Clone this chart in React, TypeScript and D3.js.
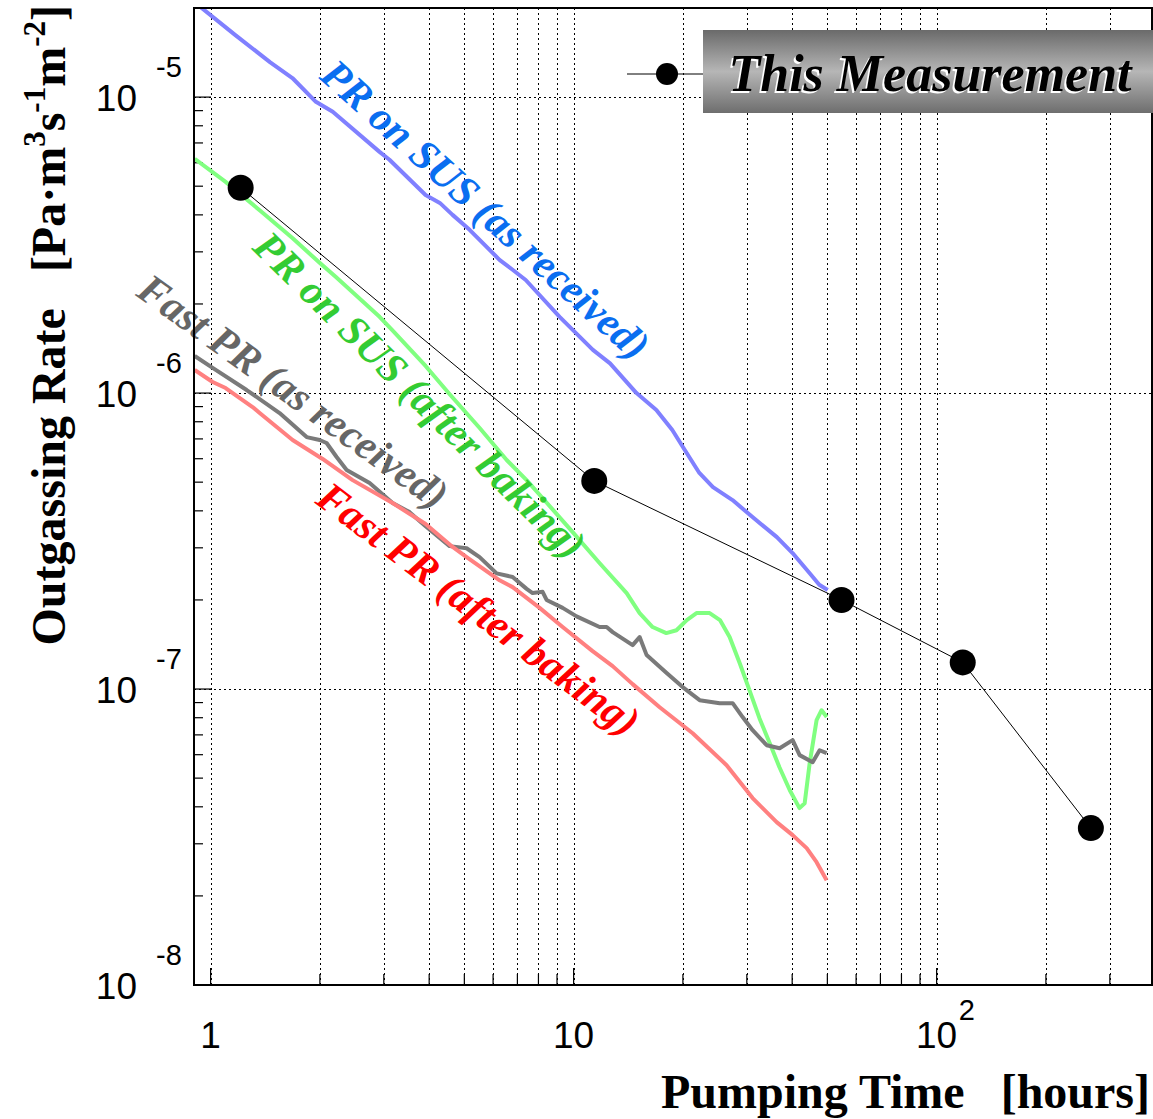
import React from 'react';
import * as d3 from 'd3';

// pumping time [hours] vs outgassing rate [Pa m3 s-1 m-2]
const prSusReceived: [number, number][] = [
  [0.898, 2.10e-5], [0.95, 1.99e-5], [1.17, 1.62e-5], [1.46, 1.31e-5], [1.68, 1.16e-5],
  [1.95, 9.64e-6], [2.17, 8.92e-6], [2.92, 6.53e-6], [3.11, 6.14e-6], [3.91, 4.67e-6],
  [4.28, 4.39e-6], [4.64, 4.0e-6], [5.17, 3.56e-6], [6.25, 2.82e-6], [6.79, 2.61e-6],
  [7.38, 2.41e-6], [9.15, 1.81e-6], [11.3, 1.40e-6], [12.6, 1.26e-6], [14.9, 1.0e-6],
  [16.9, 8.77e-7], [18.7, 7.5e-7], [20.0, 6.57e-7], [22.2, 5.37e-7], [24.2, 4.81e-7],
  [27.4, 4.35e-7], [31.1, 3.81e-7], [36.3, 3.26e-7], [40.1, 2.88e-7], [44.7, 2.46e-7],
  [47.5, 2.25e-7], [50.1, 2.16e-7],
];

const prSusBaked: [number, number][] = [
  [0.904, 6.19e-6], [1.10, 5.17e-6], [1.37, 4.13e-6], [1.68, 3.34e-6], [2.0, 2.75e-6],
  [2.21, 2.47e-6], [2.92, 1.81e-6], [3.17, 1.63e-6], [3.91, 1.235e-6], [4.55, 9.93e-7],
  [5.51, 7.62e-7], [6.54, 5.94e-7], [7.42, 5.08e-7], [8.21, 4.42e-7], [9.94, 3.39e-7],
  [11.8, 2.66e-7], [14.0, 2.11e-7], [15.2, 1.805e-7], [16.5, 1.62e-7], [18.0, 1.545e-7],
  [19.2, 1.58e-7], [20.5, 1.71e-7], [21.8, 1.805e-7], [23.7, 1.805e-7], [25.3, 1.71e-7],
  [26.9, 1.50e-7], [28.7, 1.22e-7], [30.5, 9.91e-8], [32.5, 7.97e-8], [34.7, 6.56e-8],
  [36.9, 5.44e-8], [39.4, 4.55e-8], [41.9, 3.96e-8], [43.3, 4.11e-8], [44.7, 5.62e-8],
  [46.7, 7.85e-8], [48.2, 8.48e-8], [49.8, 8.04e-8],
];

const fastPrReceived: [number, number][] = [
  [0.904, 1.334e-6], [1.013, 1.216e-6], [1.257, 1.024e-6], [1.549, 8.56e-7], [1.839, 7.10e-7],
  [1.997, 6.94e-7], [2.087, 6.78e-7], [2.224, 6.08e-7], [2.37, 5.50e-7], [2.742, 4.97e-7],
  [3.172, 4.25e-7], [3.533, 3.96e-7], [3.911, 3.55e-7], [4.554, 3.04e-7], [5.073, 2.99e-7],
  [5.508, 2.79e-7], [6.137, 2.46e-7], [6.792, 2.39e-7], [7.422, 2.18e-7], [7.709, 2.11e-7],
  [8.214, 2.13e-7], [8.425, 2.0e-7], [9.327, 1.88e-7], [10.19, 1.76e-7], [11.79, 1.62e-7],
  [12.33, 1.62e-7], [12.81, 1.557e-7], [14.54, 1.407e-7], [15.2, 1.498e-7], [15.89, 1.302e-7],
  [18.04, 1.132e-7], [19.97, 1.015e-7], [22.24, 9.17e-8], [25.25, 8.96e-8], [27.42, 8.96e-8],
  [29.21, 8.04e-8], [31.12, 7.26e-8], [34.02, 6.46e-8], [36.94, 6.31e-8], [40.12, 6.72e-8],
  [41.94, 5.98e-8], [45.54, 5.66e-8], [47.61, 6.21e-8], [49.77, 6.07e-8],
];

const fastPrBaked: [number, number][] = [
  [0.904, 1.197e-6], [1.013, 1.09e-6], [1.10, 1.04e-6], [1.305, 8.97e-7], [1.365, 8.56e-7],
  [1.682, 6.94e-7], [2.035, 5.99e-7], [2.461, 5.08e-7], [3.172, 4.25e-7], [3.911, 3.61e-7],
  [4.642, 3.02e-7], [5.073, 2.79e-7], [6.254, 2.33e-7], [6.792, 2.21e-7], [8.06, 1.88e-7],
  [9.327, 1.62e-7], [11.28, 1.343e-7], [12.81, 1.195e-7], [14.54, 1.039e-7], [17.26, 8.68e-8],
  [21.28, 7.09e-8], [26.39, 5.53e-8], [31.12, 4.28e-8], [36.25, 3.55e-8], [40.12, 3.21e-8],
  [43.85, 2.90e-8], [46.7, 2.60e-8], [49.77, 2.26e-8],
];

const measTime = [1.21, 11.4, 54.7, 118, 266];
const measRate = [4.94e-6, 5.05e-7, 2.0e-7, 1.23e-7, 3.39e-8];

const xMajor = [1, 10, 100];
const yMajor = [1e-8, 1e-7, 1e-6, 1e-5];
const yExp = ['-8', '-7', '-6', '-5'];

const W = 1153, H = 1119;
const frame = {left: 194, right: 1152, top: 8, bottom: 985};

const serif = '"Liberation Serif", "Times New Roman", serif';
const sans = '"Liberation Sans", Arial, sans-serif';

export default function App() {
    const x = d3.scaleLog().domain([0.9, 392]).range([frame.left, frame.right]);
    const y = d3.scaleLog().domain([1e-8, 2e-5]).range([frame.bottom, frame.top]);

    const line = d3.line<[number, number]>().x(d => x(d[0])).y(d => y(d[1]));
    const px = (v: number) => Math.round(v) + 0.5;

    // minor positions: 2..9 in each decade, inside the frame
    const xMinor: number[] = [];
    [1, 10, 100].forEach(dec => d3.range(2, 10).forEach(k => {
        const v = k * dec;
        if (v < 392) xMinor.push(v);
    }));
    const yMinor: number[] = [];
    [1e-8, 1e-7, 1e-6, 1e-5].forEach(dec => d3.range(2, 10).forEach(k => {
        const v = k * dec;
        if (v < 2e-5) yMinor.push(v);
    }));

    const meas = measTime.map((t, i) => [t, measRate[i]] as [number, number]);

    const curves = [
        {data: prSusReceived, color: '#8080ff'},
        {data: prSusBaked, color: '#80ff80'},
        {data: fastPrReceived, color: '#7a7a7a'},
        {data: fastPrBaked, color: '#ff8080'},
    ];

    const labels = [
        {text: 'PR on SUS (as received)', color: '#0a6ef0', cx: 476, cy: 220, angle: 42},
        {text: 'PR on SUS (after baking)', color: '#33cc33', cx: 410, cy: 405, angle: 44.5},
        {text: 'Fast PR (as received)', color: '#666666', cx: 285, cy: 403, angle: 35.7},
        {text: 'Fast PR (after baking)', color: '#ff0000', cx: 470, cy: 620, angle: 37},
    ];

    return (
        <svg width={W} height={H} style={{position: 'absolute', left: 0, top: 0, background: '#fff'}}>
            <defs>
                <clipPath id="frame-clip">
                    <rect x={frame.left} y={frame.top} width={frame.right - frame.left} height={frame.bottom - frame.top}/>
                </clipPath>
                <linearGradient id="legend-grad" x1="0" y1="0" x2="0" y2="1">
                    <stop offset="0%" stopColor="#6a6a6a"/>
                    <stop offset="50%" stopColor="#b6b6b6"/>
                    <stop offset="100%" stopColor="#6e6e6e"/>
                </linearGradient>
            </defs>

            {/* grid */}
            <g stroke="#000" strokeWidth={1} strokeDasharray="2,3" shapeRendering="crispEdges">
                {[...xMajor, ...xMinor].map(v => (
                    <line key={'gx' + v} x1={px(x(v))} x2={px(x(v))} y1={frame.top} y2={frame.bottom}/>
                ))}
                {yMajor.slice(1).map(v => (
                    <line key={'gy' + v} x1={frame.left} x2={frame.right} y1={px(y(v))} y2={px(y(v))}/>
                ))}
            </g>

            {/* ticks */}
            <g stroke="#000" strokeWidth={1.2}>
                {xMajor.map(v => <line key={'tx' + v} x1={x(v)} x2={x(v)} y1={frame.bottom} y2={frame.bottom - 17}/>)}
                {xMinor.map(v => <line key={'tmx' + v} x1={x(v)} x2={x(v)} y1={frame.bottom} y2={frame.bottom - 11}/>)}
                {yMajor.map(v => <line key={'ty' + v} x1={frame.left} x2={frame.left + 17} y1={y(v)} y2={y(v)}/>)}
                {yMinor.map(v => <line key={'tmy' + v} x1={frame.left} x2={frame.left + 9} y1={y(v)} y2={y(v)}/>)}
            </g>

            {/* curves */}
            <g clipPath="url(#frame-clip)" fill="none" strokeWidth={4} strokeLinejoin="round">
                {curves.map((c, i) => <path key={i} d={line(c.data) || ''} stroke={c.color}/>)}
            </g>

            {/* curve labels */}
            {labels.map(l => (
                <text key={l.text} transform={`translate(${l.cx},${l.cy}) rotate(${l.angle})`}
                      textAnchor="middle" fill={l.color} fontFamily={serif} fontWeight="bold"
                      fontStyle="italic" fontSize={42}>{l.text}</text>
            ))}

            {/* this measurement */}
            <path d={line(meas) || ''} fill="none" stroke="#000" strokeWidth={1}/>
            {meas.map((d, i) => <circle key={i} cx={x(d[0])} cy={y(d[1])} r={13} fill="#000"/>)}

            {/* frame */}
            <rect x={frame.left} y={frame.top} width={frame.right - frame.left} height={frame.bottom - frame.top}
                  fill="none" stroke="#000" strokeWidth={2}/>

            {/* legend */}
            <line x1={627} x2={703} y1={74} y2={74} stroke="#000" strokeWidth={1}/>
            <circle cx={667} cy={74} r={11} fill="#000"/>
            <rect x={703} y={30} width={452} height={83} fill="url(#legend-grad)"/>
            <g fontFamily={serif} fontWeight="bold" fontStyle="italic" fontSize={52} textAnchor="middle">
                <text x={928} y={93} fill="#fff">This Measurement</text>
                <text x={930} y={91} fill="#000">This Measurement</text>
            </g>

            {/* x tick labels */}
            <g fontFamily={sans} fontSize={37} fill="#000" textAnchor="middle">
                <text x={x(1)} y={1048}>1</text>
                <text x={x(10)} y={1048}>10</text>
                <text x={x(100)} y={1048}>10</text>
                <text x={x(100) + 22} y={1020} fontSize={29} textAnchor="start">2</text>
            </g>

            {/* y tick labels */}
            <g fontFamily={sans} fill="#000">
                {yMajor.map((v, i) => (
                    <g key={'ly' + v}>
                        <text x={137} y={y(v) + 14} fontSize={37} textAnchor="end">10</text>
                        <text x={156} y={y(v) - 20} fontSize={29}>{yExp[i]}</text>
                    </g>
                ))}
            </g>

            {/* axis titles */}
            <text x={1150} y={1108} textAnchor="end" fontFamily={serif} fontWeight="bold" fontSize={48}
                  style={{whiteSpace: 'pre'}}>{'Pumping Time   [hours]'}</text>
            <text transform="translate(65,5) rotate(-90)" textAnchor="end" fontFamily={serif}
                  fontWeight="bold" fontSize={48} style={{whiteSpace: 'pre'}}>
                {'Outgassing Rate   [Pa\u00b7m'}
                <tspan dy={-20} fontSize={31}>3</tspan>
                <tspan dy={20}>s</tspan>
                <tspan dy={-20} fontSize={31}>-1</tspan>
                <tspan dy={20}>m</tspan>
                <tspan dy={-20} fontSize={31}>-2</tspan>
                <tspan dy={20}>]</tspan>
            </text>
        </svg>
    );
}
